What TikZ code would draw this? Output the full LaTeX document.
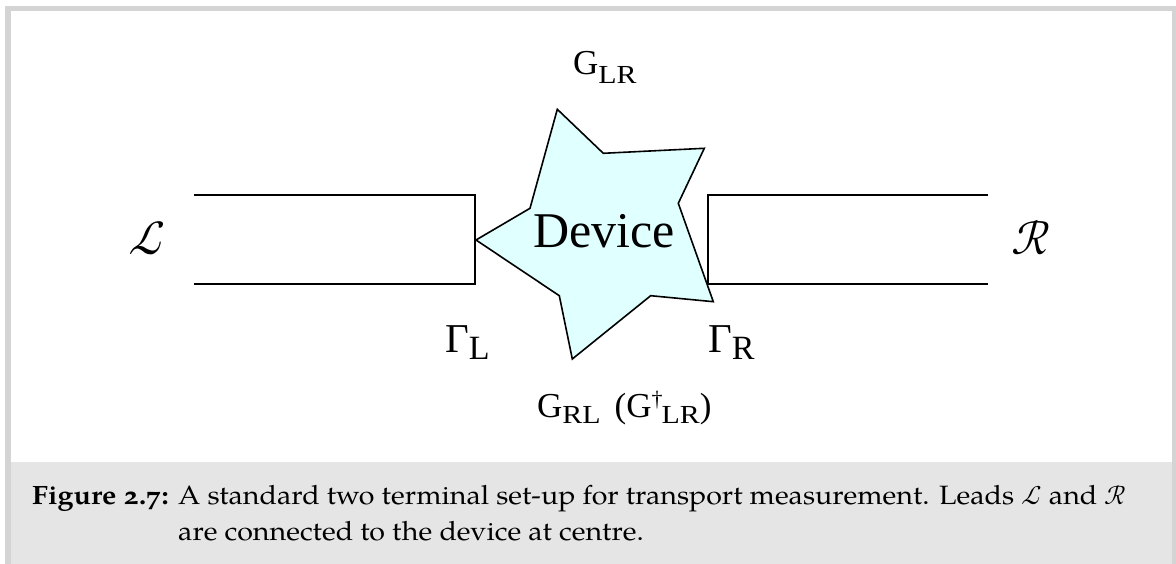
\documentclass[tikz,border=0pt]{standalone}
\usepackage{fontspec}
\usepackage{unicode-math}
\setmainfont{Liberation Serif}
\setmathfont{Latin Modern Math}
\newfontfamily\capfont[Numbers=OldStyle,FakeStretch=1.08]{TeX Gyre Pagella}
\newfontfamily\subfont[FakeStretch=1.15]{Liberation Serif}
\definecolor{framegray}{HTML}{D4D4D4}
\definecolor{capgray}{HTML}{E5E5E5}
\definecolor{starfill}{HTML}{E0FFFF}
\tikzset{
  lead/.style={line width=1.6pt, line join=miter},
  star/.style={draw, line width=1.6pt, fill=starfill, line join=miter},
  lbl/.style={inner sep=0pt, anchor=base west},
}
\newcommand{\px}[1]{\fontsize{#1}{#1}\selectfont}
\newcommand{\sbx}[2][-8pt]{\raisebox{#1}{\subfont\px{26}#2}}
\begin{document}
\begin{tikzpicture}[x=1pt,y=-1pt]
\useasboundingbox (0,0) rectangle (1176,564);
% frame and caption background
\fill[capgray] (11,462) rectangle (1172,564);
\fill[framegray] (5,6) rectangle (11,564);
\fill[framegray] (5,6) rectangle (1176,11);
\fill[framegray] (1172,6) rectangle (1176,564);
% leads
\draw[lead] (194,195) -- (475,195) -- (475,284) -- (194,284);
\draw[lead] (988,195) -- (708,195) -- (708,284) -- (988,284);
% device star
\draw[star] (557.3,109.3) -- (603.3,153.3) -- (704.3,148.3) -- (678.3,203.3)
  -- (713.3,301.7) -- (650.7,295.7) -- (572.3,359) -- (559.3,295.7)
  -- (476,240) -- (530,208.3) -- cycle;
\node[lbl] (dev) at (533,248) {\px{50}Device};
% labels
\node[lbl] (glr) at (573,75) {\px{35}G\sbx[-9pt]{LR}};
\node[lbl] (gl) at (445,352) {\px{41}Γ\raisebox{-7pt}{\px{34}L}};
\node[lbl] (gr) at (708,352) {\px{41}Γ\raisebox{-7pt}{\px{34}R}};
\node[lbl] (grl) at (537,417) {\px{35}G\sbx[-6pt]{RL}\hspace{14pt}(G\raisebox{11pt}{\px{22}\textdagger}\kern-1pt\sbx[-6pt]{LR})};
\node[inner sep=0pt] (L) at (147,238) {\px{48}$\mathcal{L}$};
\node[inner sep=0pt] (R) at (1031,238) {\px{48}$\mathcal{R}$};
% caption
\node[lbl] (fig) at (32,504) {\capfont\px{26.5}\bfseries Figure 2.7:};
\node[lbl] (cap1) at (178,504) {\capfont\px{26.5}A standard two terminal set-up for transport measurement. Leads $\mathcal{L}$ and $\mathcal{R}$};
\node[lbl] (cap2) at (178,540) {\capfont\px{26.5}are connected to the device at centre.};
\end{tikzpicture}
\end{document}
